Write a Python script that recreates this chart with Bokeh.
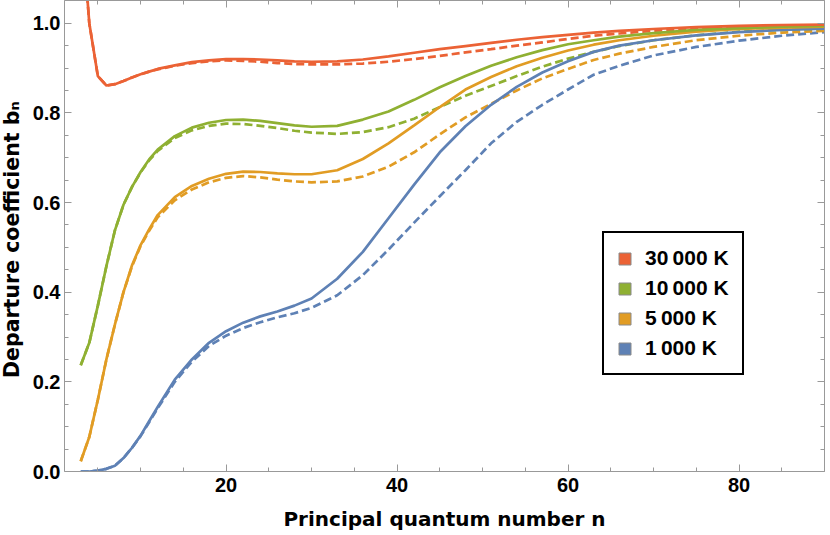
from bokeh.plotting import figure
from bokeh.models import (Range1d, FixedTicker, LinearAxis, Legend, LegendItem,
                          PrintfTickFormatter, CustomJSTickFormatter)
from bokeh.embed import file_html
from bokeh.resources import INLINE

# Principal quantum number grid
n = [3, 4, 5, 6, 7, 8, 9, 10, 11, 12, 14, 16, 18, 20, 22, 24, 26, 28, 30,
     33, 36, 39, 42, 45, 48, 51, 54, 57, 60, 63, 66, 70, 75, 80, 85, 90]

# Departure coefficients b_n (solid and dashed) per temperature
b30000_solid = [1.25, 1.0, 0.882, 0.861, 0.864, 0.871, 0.879, 0.886, 0.892, 0.898, 0.906, 0.913, 0.917, 0.920, 0.920, 0.919, 0.917, 0.915, 0.914,
                0.915, 0.919, 0.926, 0.934, 0.942, 0.949, 0.956, 0.963, 0.969, 0.974, 0.979, 0.983, 0.987, 0.991, 0.994, 0.996, 0.997]
b30000_dashed = [1.25, 1.0, 0.882, 0.861, 0.864, 0.871, 0.879, 0.886, 0.892, 0.897, 0.905, 0.911, 0.915, 0.917, 0.916, 0.914, 0.911, 0.909, 0.908,
                 0.908, 0.910, 0.914, 0.920, 0.927, 0.935, 0.942, 0.950, 0.957, 0.965, 0.972, 0.977, 0.983, 0.988, 0.991, 0.993, 0.995]
b10000_solid = [0.237, 0.287, 0.370, 0.458, 0.538, 0.595, 0.635, 0.668, 0.696, 0.718, 0.748, 0.767, 0.778, 0.784, 0.785, 0.782, 0.777, 0.772, 0.769,
                0.771, 0.785, 0.803, 0.829, 0.857, 0.882, 0.905, 0.924, 0.940, 0.953, 0.962, 0.970, 0.978, 0.985, 0.989, 0.992, 0.994]
b10000_dashed = [0.237, 0.287, 0.370, 0.458, 0.538, 0.595, 0.635, 0.667, 0.694, 0.715, 0.744, 0.761, 0.771, 0.776, 0.775, 0.771, 0.766, 0.760, 0.756,
                 0.753, 0.757, 0.768, 0.787, 0.813, 0.838, 0.860, 0.882, 0.903, 0.921, 0.936, 0.949, 0.962, 0.973, 0.981, 0.985, 0.988]
b5000_solid = [0.023, 0.077, 0.160, 0.250, 0.328, 0.400, 0.460, 0.505, 0.540, 0.572, 0.612, 0.637, 0.653, 0.664, 0.669, 0.668, 0.665, 0.663, 0.663,
               0.672, 0.697, 0.732, 0.772, 0.813, 0.852, 0.880, 0.904, 0.923, 0.939, 0.952, 0.962, 0.972, 0.981, 0.987, 0.990, 0.992]
b5000_dashed = [0.023, 0.077, 0.160, 0.250, 0.328, 0.400, 0.458, 0.503, 0.537, 0.567, 0.605, 0.629, 0.645, 0.655, 0.659, 0.656, 0.651, 0.647, 0.645,
                0.647, 0.658, 0.680, 0.712, 0.752, 0.790, 0.820, 0.850, 0.877, 0.898, 0.918, 0.932, 0.947, 0.962, 0.972, 0.979, 0.983]
b1000_solid = [0.000, 0.000, 0.002, 0.006, 0.013, 0.030, 0.053, 0.080, 0.112, 0.144, 0.205, 0.250, 0.287, 0.313, 0.332, 0.346, 0.357, 0.370, 0.386,
               0.430, 0.490, 0.565, 0.640, 0.712, 0.770, 0.818, 0.858, 0.890, 0.915, 0.936, 0.950, 0.962, 0.973, 0.980, 0.985, 0.988]
b1000_dashed = [0.000, 0.000, 0.002, 0.006, 0.013, 0.030, 0.053, 0.079, 0.110, 0.141, 0.200, 0.245, 0.280, 0.303, 0.320, 0.333, 0.344, 0.353, 0.365,
                0.393, 0.438, 0.495, 0.555, 0.614, 0.672, 0.732, 0.780, 0.818, 0.852, 0.885, 0.905, 0.928, 0.947, 0.961, 0.972, 0.980]

legend_labels = ["30\u2009000 K", "10\u2009000 K", "5\u2009000 K", "1\u2009000 K"]
colors = ["#EB6235", "#8FB032", "#E19C24", "#5E81B5"]

x_major = [20, 40, 60, 80]
x_minor = [5, 10, 15, 25, 30, 35, 45, 50, 55, 65, 70, 75, 85, 90]
y_major = [0.0, 0.2, 0.4, 0.6, 0.8, 1.0]
y_minor = [0.05, 0.1, 0.15, 0.25, 0.3, 0.35, 0.45, 0.5, 0.55, 0.65, 0.7, 0.75, 0.85, 0.9, 0.95, 1.05]

x_title = "Principal quantum number n"
y_title = "Departure coefficient  b\u2099"

FRAME = "#999999"

p = figure(width=829, height=535, x_range=Range1d(1.1, 90), y_range=Range1d(0, 1.0506),
           output_backend="svg", toolbar_location=None,
           min_border_left=67, min_border_right=1, min_border_top=0, min_border_bottom=64,
           margin=(0, 0, -8, -4), background_fill_color="white", border_fill_color="white")
p.grid.visible = False
p.outline_line_color = None

xt = FixedTicker(ticks=x_major, minor_ticks=x_minor)
yt = FixedTicker(ticks=y_major, minor_ticks=y_minor)
bottom = p.below[0]
left = p.left[0]
bottom.ticker = xt
left.ticker = yt
left.formatter = PrintfTickFormatter(format="%.1f")

blank = CustomJSTickFormatter(code="return ''")
top = LinearAxis(ticker=xt, formatter=blank, major_label_standoff=0)
right = LinearAxis(ticker=yt, formatter=blank, major_label_standoff=0)
p.add_layout(top, "above")
p.add_layout(right, "right")

for ax in [bottom, left, top, right]:
    ax.axis_line_color = FRAME
    ax.axis_line_width = 1
    ax.major_tick_line_color = FRAME
    ax.minor_tick_line_color = FRAME
    ax.major_tick_in = 7
    ax.major_tick_out = 0
    ax.minor_tick_in = 4
    ax.minor_tick_out = 0
    ax.major_label_text_font = "Liberation Sans"
    ax.major_label_text_font_style = "bold"
    ax.major_label_text_font_size = "20px"
    ax.major_label_text_color = "black"

bottom.major_label_standoff = 6
left.major_label_standoff = 4

bottom.axis_label = x_title
left.axis_label = y_title
for ax in [bottom, left]:
    ax.axis_label_text_font = "DejaVu Sans"
    ax.axis_label_text_font_style = "bold"
    ax.axis_label_text_color = "black"
bottom.axis_label_text_font_size = "20px"
left.axis_label_text_font_size = "20.5px"
bottom.axis_label_standoff = 12
left.axis_label_standoff = 6

series = [
    (b30000_solid, b30000_dashed),
    (b10000_solid, b10000_dashed),
    (b5000_solid, b5000_dashed),
    (b1000_solid, b1000_dashed),
]
for (sol, das), c in zip(reversed(series), reversed(colors)):
    p.line(n, das, line_color=c, line_width=2.7, line_dash="8 4")
for (sol, das), c in zip(reversed(series), reversed(colors)):
    p.line(n, sol, line_color=c, line_width=2.7)

items = []
for lab, c, (sol, das) in zip(legend_labels, colors, series):
    r = p.quad(left=n[:1], right=n[:1], top=sol[:1], bottom=sol[:1],
               fill_color=c, line_color="#8a8a8a", line_width=1)
    r.visible = False
    items.append(LegendItem(label=lab, renderers=[r]))

leg = Legend(items=items, location=(538, 96), orientation="vertical",
             border_line_color="black", border_line_width=2, border_line_alpha=1.0,
             background_fill_color="white", background_fill_alpha=1.0,
             glyph_width=15, glyph_height=15, label_standoff=13,
             padding=13, spacing=6, label_height=24, inactive_fill_alpha=0.0,
             label_text_font="Liberation Sans", label_text_font_style="bold",
             label_text_font_size="21px", label_text_color="black", margin=0)
p.add_layout(leg, "center")

open("out.html", "w").write(file_html(p, INLINE))
